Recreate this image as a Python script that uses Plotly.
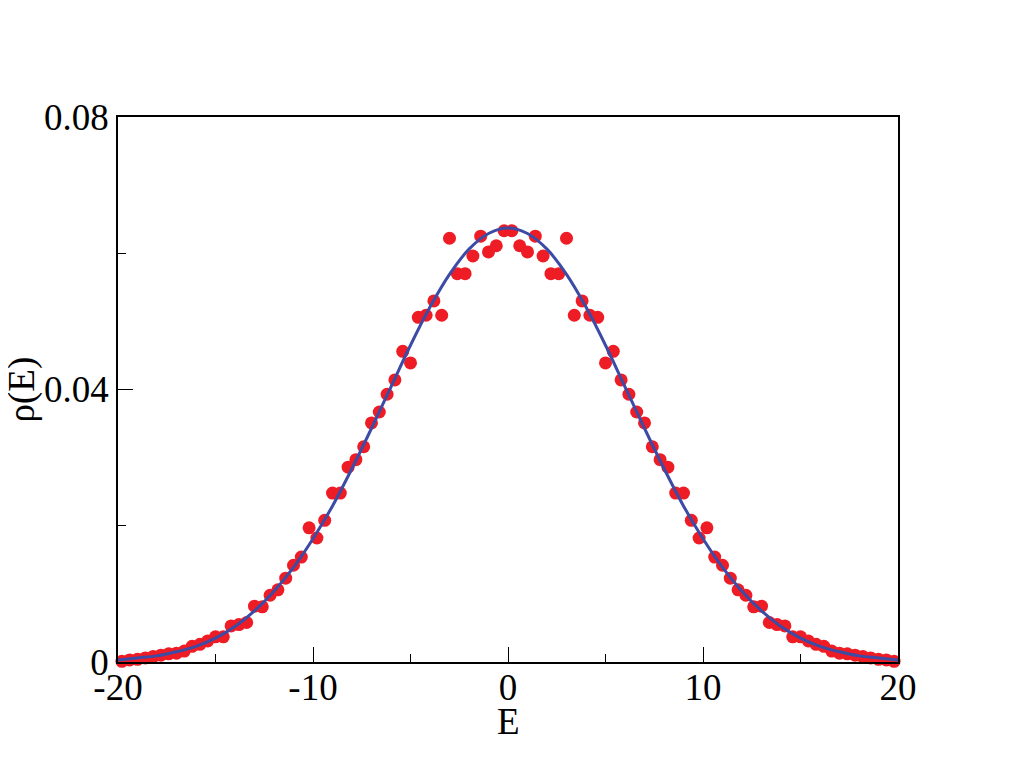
import plotly.graph_objects as go

# Histogram points (red dots)
E_points = [
    -19.8, -19.4, -19.0, -18.6, -18.2, -17.8, -17.4, -17.0, -16.6, -16.2,
    -15.8, -15.4, -15.0, -14.6, -14.2, -13.8, -13.4, -13.0, -12.6, -12.2,
    -11.8, -11.4, -11.0, -10.6, -10.2, -9.8, -9.4, -9.0, -8.6, -8.2,
    -7.8, -7.4, -7.0, -6.6, -6.2, -5.8, -5.4, -5.0, -4.6, -4.2,
    -3.8, -3.4, -3.0, -2.6, -2.2, -1.8, -1.4, -1.0, -0.6, -0.2,
    0.2, 0.6, 1.0, 1.4, 1.8, 2.2, 2.6, 3.0, 3.4, 3.8,
    4.2, 4.6, 5.0, 5.4, 5.8, 6.2, 6.6, 7.0, 7.4, 7.8,
    8.2, 8.6, 9.0, 9.4, 9.8, 10.2, 10.6, 11.0, 11.4, 11.8,
    12.2, 12.6, 13.0, 13.4, 13.8, 14.2, 14.6, 15.0, 15.4, 15.8,
    16.2, 16.6, 17.0, 17.4, 17.8, 18.2, 18.6, 19.0, 19.4, 19.8,
]
rho_points = [
    0.0001, 0.0003, 0.0004, 0.0006, 0.0008, 0.0010, 0.0012, 0.0013, 0.0016, 0.0023,
    0.0026, 0.0031, 0.0037, 0.0037, 0.0053, 0.0055, 0.0058, 0.0082, 0.0081, 0.0098,
    0.0106, 0.0123, 0.0142, 0.0154, 0.0197, 0.0182, 0.0208, 0.0248, 0.0248, 0.0286,
    0.0297, 0.0316, 0.0351, 0.0367, 0.0393, 0.0414, 0.0456, 0.0439, 0.0506, 0.0509,
    0.0530, 0.0509, 0.0622, 0.0570, 0.0570, 0.0596, 0.0625, 0.0602, 0.0611, 0.0633,
    0.0633, 0.0611, 0.0602, 0.0625, 0.0596, 0.0570, 0.0570, 0.0622, 0.0509, 0.0530,
    0.0509, 0.0506, 0.0439, 0.0456, 0.0414, 0.0393, 0.0367, 0.0351, 0.0316, 0.0297,
    0.0286, 0.0248, 0.0248, 0.0208, 0.0182, 0.0197, 0.0154, 0.0142, 0.0123, 0.0106,
    0.0098, 0.0081, 0.0082, 0.0058, 0.0055, 0.0053, 0.0037, 0.0037, 0.0031, 0.0026,
    0.0023, 0.0016, 0.0013, 0.0012, 0.0010, 0.0008, 0.0006, 0.0004, 0.0003, 0.0001,
]

# Fitted curve (blue line)
E_fit = [
    -20, -19, -18, -17, -16, -15, -14, -13, -12, -11, -10,
    -9, -8, -7, -6, -5, -4, -3, -2, -1, 0,
    1, 2, 3, 4, 5, 6, 7, 8, 9, 10,
    11, 12, 13, 14, 15, 16, 17, 18, 19, 20,
]
rho_fit = [
    0.0003, 0.0006, 0.0009, 0.0015, 0.0023, 0.0035, 0.0052, 0.0075, 0.0104, 0.0139, 0.0181,
    0.0229, 0.0284, 0.0343, 0.0404, 0.0465, 0.0521, 0.0569, 0.0606, 0.0629, 0.0637,
    0.0629, 0.0606, 0.0569, 0.0521, 0.0465, 0.0404, 0.0343, 0.0284, 0.0229, 0.0181,
    0.0139, 0.0104, 0.0075, 0.0052, 0.0035, 0.0023, 0.0015, 0.0009, 0.0006, 0.0003,
]

x_tickvals = [-20, -10, 0, 10, 20]
x_ticktext = ["-20", "-10", "0", "10", "20"]
y_tickvals = [0, 0.04, 0.08]
y_ticktext = ["0", "0.04", "0.08"]
x_title = "E"
y_title = "ρ(E)"

FONT = "Liberation Serif, Times New Roman, serif"
FS = 37

fig = go.Figure()
fig.add_trace(go.Scatter(
    x=E_points, y=rho_points, mode="markers",
    marker=dict(color="#EE1C25", size=13, line=dict(width=0)),
    cliponaxis=False, showlegend=False,
))
fig.add_trace(go.Scatter(
    x=E_fit, y=rho_fit, mode="lines", line_shape="spline",
    line=dict(color="#3C4BA5", width=3),
    cliponaxis=False, showlegend=False,
))

fig.update_layout(
    width=1011, height=781,
    margin=dict(l=110, r=121, t=109, b=127),
    paper_bgcolor="white", plot_bgcolor="white",
    font=dict(family=FONT, size=FS, color="black"),
    showlegend=False,
)
fig.update_xaxes(
    range=[-20, 20], showgrid=False, zeroline=False,
    showline=True, linecolor="black", linewidth=1.5, mirror=True,
    ticks="inside", ticklen=15, tickwidth=1.2, tickcolor="black",
    tickvals=x_tickvals, ticktext=x_ticktext,
    tickfont=dict(family=FONT, size=FS),
    ticklabelstandoff=-8,
    minor=dict(ticks="inside", ticklen=8, tickwidth=1.2, tickcolor="black", dtick=5, showgrid=False),
)
fig.update_yaxes(
    range=[0, 0.08], showgrid=False, zeroline=False,
    showline=True, linecolor="black", linewidth=1.5, mirror=True,
    ticks="inside", ticklen=15, tickwidth=1.2, tickcolor="black",
    tickvals=y_tickvals, ticktext=y_ticktext,
    tickfont=dict(family=FONT, size=FS),
    minor=dict(ticks="inside", ticklen=8, tickwidth=1.2, tickcolor="black", dtick=0.02, showgrid=False),
)

# Axis titles placed as annotations to match the reference placement
fig.add_annotation(
    text=x_title, xref="paper", yref="paper", x=0.5, y=0,
    xanchor="center", yanchor="middle", yshift=-59, showarrow=False,
    font=dict(family=FONT, size=FS, color="black"),
)
fig.add_annotation(
    text=y_title, xref="paper", yref="paper", x=0, y=0.5,
    xanchor="center", yanchor="middle", xshift=-97, textangle=-90, showarrow=False,
    font=dict(family=FONT, size=FS, color="black"),
)

fig.write_html("out.html")
